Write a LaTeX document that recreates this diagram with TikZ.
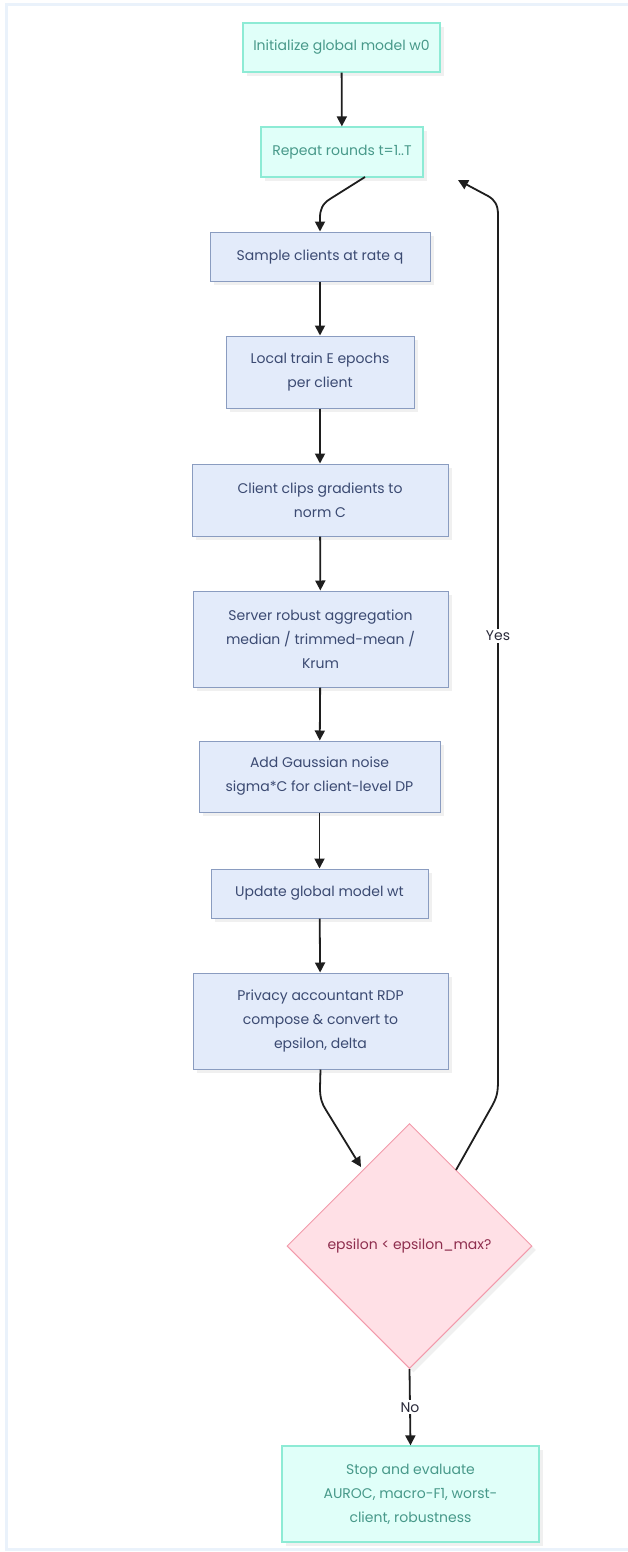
\documentclass[tikz,border=0pt]{standalone}
\usepackage{fontspec}
\setmainfont{Poppins}
\usetikzlibrary{arrows.meta,shapes.geometric,shadows}
\definecolor{tfill}{HTML}{E0FFF9}
\definecolor{tdraw}{HTML}{8DEBD5}
\definecolor{ttext}{HTML}{48998A}
\definecolor{bfill}{HTML}{E3EBFA}
\definecolor{bdraw}{HTML}{8A9CC0}
\definecolor{btext}{HTML}{3B4A72}
\definecolor{dfill}{HTML}{FFE0E6}
\definecolor{ddraw}{HTML}{F29AAB}
\definecolor{dtext}{HTML}{8E2E4E}
\definecolor{frame}{HTML}{EAF2FB}
\definecolor{edge}{HTML}{1E1E1E}
\definecolor{ltext}{HTML}{2A2A3A}
\tikzset{
  x=1pt,y=-1pt,
  base/.style={font=\fontsize{14}{24}\selectfont, align=center, inner sep=0pt,
    drop shadow={shadow xshift=4pt,shadow yshift=-4pt,fill=black,opacity=0.06}},
  tealbox/.style={base, rectangle, draw=tdraw, line width=1.2pt, fill=tfill, text=ttext},
  bluebox/.style={base, rectangle, draw=bdraw, line width=1pt, fill=bfill, text=btext},
  decision/.style={base, diamond, aspect=1, draw=ddraw, line width=1pt, fill=dfill, text=dtext},
  arr/.style={draw=edge, line width=1.8pt, -{Triangle[length=10pt,width=10pt]}},
  elabel/.style={font=\fontsize{14}{16}\selectfont, text=ltext, fill=white, inner sep=2pt},
}
\begin{document}
\begin{tikzpicture}
\useasboundingbox (0,0) rectangle (627,1552);
\draw[frame, line width=2.5pt] (6.5,4.5) rectangle (640,1549.5);

\node[tealbox, minimum width=197pt, minimum height=49pt] (n1) at (341.5,47.5) {Initialize global model w0};
\node[tealbox, minimum width=162pt, minimum height=50pt] (n2) at (342,152) {Repeat rounds t=1..T};
\node[bluebox, minimum width=220pt, minimum height=49pt] (n3) at (320,256.5) {Sample clients at rate q};
\node[bluebox, minimum width=188pt, minimum height=72pt] (n4) at (320,372) {Local train E epochs\\per client};
\node[bluebox, minimum width=256pt, minimum height=72pt] (n5) at (320,500) {Client clips gradients to\\norm C};
\node[bluebox, minimum width=255pt, minimum height=96pt] (n6) at (320.5,639) {Server robust aggregation\\median / trimmed-mean /\\Krum};
\node[bluebox, minimum width=241pt, minimum height=71pt] (n7) at (319.5,776.5) {Add Gaussian noise\\sigma*C for client-level DP};
\node[bluebox, minimum width=217pt, minimum height=49pt] (n8) at (319.5,893.5) {Update global model wt};
\node[bluebox, minimum width=255pt, minimum height=96pt] (n9) at (320.5,1021) {Privacy accountant RDP\\compose \& convert to\\epsilon, delta};
\node[decision, minimum width=245pt, minimum height=245pt] (d) at (409.5,1246) {epsilon < epsilon\_max?};
\node[tealbox, minimum width=257pt, minimum height=96pt] (n10) at (410.5,1494) {Stop and evaluate\\AUROC, macro-F1, worst-\\client, robustness};

\coordinate (c2a) at (365,177);
\coordinate (dyes) at (456,1170);
\coordinate (n2in) at (458,180);
\coordinate (dlin) at (361,1167);

\draw[arr] (n1) -- (n2);
\draw[arr] (c2a) -- (330,199) .. controls (322,204) and (320,210) .. (320,218) -- (n3.north);
\draw[arr] (n3) -- (n4);
\draw[arr] (n4) -- (n5);
\draw[arr] (n5) -- (n6);
\draw[arr] (n6) -- (n7);
\draw[arr] (n7) -- (n8);
\draw[arr] (n8) -- (n9);
\draw[arr] (n9.south) -- (320,1088) .. controls (320,1098) and (322,1104) .. (326,1110) -- (dlin);
\draw[arr] (dyes) -- (492,1106) .. controls (497,1097) and (498,1092) .. (498,1080) -- (498,215) .. controls (498,205) and (495,200) .. (488,196) -- (n2in);
\node[elabel] (yes) at (498,636) {Yes};
\draw[arr] (d.south) -- (n10.north) node[elabel, midway] (no) {No};
\end{tikzpicture}
\end{document}
